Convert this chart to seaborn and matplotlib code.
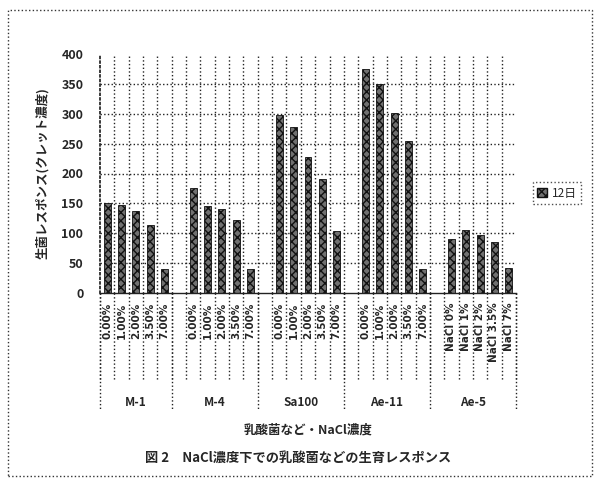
import matplotlib
matplotlib.use("Agg")
import matplotlib.pyplot as plt
import matplotlib.patches as mpatches
import matplotlib.transforms as mtransforms
import seaborn as sns
import pandas as pd

# Strains and NaCl concentration levels
groups = ["M-1", "M-4", "Sa100", "Ae-11", "Ae-5"]
conc_labels = ["0.00%", "1.00%", "2.00%", "3.50%", "7.00%"]
ae5_labels = ["NaCl 0%", "NaCl 1%", "NaCl 2%", "NaCl 3.5%", "NaCl 7%"]

# Growth response (Klett units) on day 12
m1_vals = [150, 148, 138, 113, 40]
m4_vals = [175, 145, 140, 122, 40]
sa100_vals = [298, 277, 228, 190, 103]
ae11_vals = [375, 350, 302, 255, 40]
ae5_vals = [90, 105, 97, 85, 42]

yticks = [0, 50, 100, 150, 200, 250, 300, 350, 400]
series_name = "12日"
ylabel = "生菌レスポンス(クレット濃度)"
xlabel = "乳酸菌など・NaCl濃度"
title = "図 2　NaCl濃度下での乳酸菌などの生育レスポンス"

sns.set_theme(style="white")
plt.rcParams["font.family"] = ["Noto Sans CJK JP", "DejaVu Sans"]
plt.rcParams["hatch.linewidth"] = 1.0

bar_face = "#707070"
bar_edge = "#111111"

all_vals = [m1_vals, m4_vals, sa100_vals, ae11_vals, ae5_vals]
rows, order, tick_text, group_spans = [], [], [], []
for gi, (g, vals) in enumerate(zip(groups, all_vals)):
    start = len(order)
    if gi > 0:
        order.append(f"_gap{gi}")
        tick_text.append("")
    labs = ae5_labels if g == "Ae-5" else conc_labels
    for lab, v in zip(labs, vals):
        key = f"{g}|{lab}"
        rows.append({"key": key, "value": v})
        order.append(key)
        tick_text.append(lab)
    group_spans.append((g, start, len(order)))
df = pd.DataFrame(rows)

fig = plt.figure(figsize=(5.96, 4.82), dpi=100)
ax = fig.add_axes([100 / 596, 1 - 293 / 482, 416 / 596, 239 / 482])

sns.barplot(data=df, x="key", y="value", order=order, width=0.48,
            color=bar_face, edgecolor=bar_edge, linewidth=0.6,
            hatch="xxxx", ax=ax)

n = len(order)
ax.set_xlim(-0.5, n - 0.5)
ax.set_ylim(0, 400)
ax.set_yticks(yticks)
ax.set_yticklabels([str(t) for t in yticks], fontsize=9, fontweight="bold")
ax.tick_params(axis="y", length=0, pad=12)
ax.set_ylabel(ylabel, fontsize=9, fontweight="bold", labelpad=9)
ax.set_xlabel("")
ax.set_xticks([])

for s in ["top", "right"]:
    ax.spines[s].set_visible(False)
ax.spines["left"].set_linestyle(":")
ax.spines["left"].set_color("#222")
ax.spines["bottom"].set_color("#222")
ax.spines["bottom"].set_linewidth(1.0)

# dotted grid: horizontal value lines and vertical slot boundaries
for t in yticks[1:-1]:
    ax.axhline(t, color="#222", linestyle=":", linewidth=1.0, zorder=0)
for i in range(1, n):
    ax.axvline(i - 0.5, color="#222", linestyle=":", linewidth=1.0, zorder=0)

trans = mtransforms.blended_transform_factory(ax.transData, ax.transAxes)
# slot separators under the axis
for i in range(n + 1):
    ax.plot([i - 0.5, i - 0.5], [0, -0.364], transform=trans, color="#222",
            linestyle=":", linewidth=1.0, clip_on=False)
# category labels
for i, txt in enumerate(tick_text):
    if txt:
        ax.text(i, -0.04, txt, transform=trans, rotation=90, ha="center",
                va="top", fontsize=7.5, fontweight="bold",
                family=["DejaVu Sans"])
# group separators and names
for g, a, b in group_spans:
    ax.plot([a - 0.5, a - 0.5], [0, -0.49], transform=trans, color="#222",
            linestyle=":", linewidth=1.0, clip_on=False)
    ax.text((a + b - 1) / 2, -0.46, g, transform=trans, ha="center",
            va="center", fontsize=8.5, fontweight="bold")
ax.plot([n - 0.5, n - 0.5], [0, -0.49], transform=trans, color="#222",
        linestyle=":", linewidth=1.0, clip_on=False)

ax.text(0.5, -0.575, xlabel, transform=ax.transAxes, ha="center",
        va="center", fontsize=9, fontweight="bold")
fig.text(0.5, 1 - 458 / 482, title, ha="center", va="center",
         fontsize=9.5, fontweight="bold")

handle = mpatches.Patch(facecolor=bar_face, edgecolor=bar_edge,
                        hatch="xxxx", label=series_name)
leg = fig.legend(handles=[handle], loc="center", fontsize=8.5,
                 bbox_to_anchor=(557 / 596, 1 - 193 / 482),
                 handlelength=0.8, handleheight=0.8, handletextpad=0.4,
                 borderpad=0.35, fancybox=False, frameon=True)
leg.get_frame().set_edgecolor("#222")
leg.get_frame().set_linestyle(":")
leg.get_frame().set_linewidth(1.0)

# dotted outer frame
fig.patches.append(mpatches.Rectangle((8 / 596, 1 - 476 / 482),
                                      584 / 596, 466 / 482,
                                      transform=fig.transFigure, fill=False,
                                      edgecolor="#333", linestyle=":",
                                      linewidth=1.0))

fig.savefig("out.png", dpi=100, facecolor="white")
